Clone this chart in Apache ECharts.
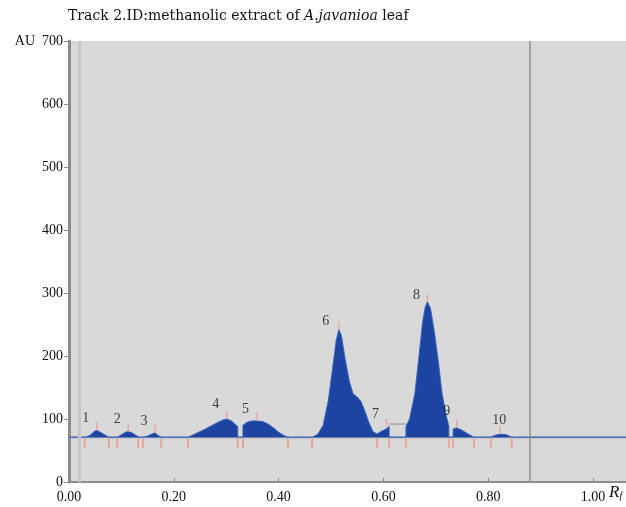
<!DOCTYPE html>
<html>
<head>
<meta charset="utf-8">
<script src="https://cdn.jsdelivr.net/npm/echarts@6/dist/echarts.min.js"></script>
<style>
html,body{margin:0;padding:0;background:#fff;}
#c{width:626px;height:507px;}
</style>
</head>
<body>
<div id="c"></div>
<script>
// Densitogram trace (Rf, AU)
const traceRf = [0.000,0.030,0.040,0.048,0.053,0.060,0.068,0.076,0.092,0.100,0.108,0.113,0.120,0.128,0.135,0.141,0.150,0.158,0.164,0.170,0.176,0.227,0.240,0.260,0.280,0.295,0.301,0.310,0.322,0.322,0.332,0.332,0.340,0.350,0.358,0.370,0.380,0.390,0.400,0.410,0.418,0.464,0.475,0.485,0.495,0.503,0.510,0.515,0.520,0.527,0.535,0.542,0.550,0.557,0.565,0.572,0.580,0.588,0.595,0.605,0.611,0.611,0.643,0.643,0.650,0.660,0.668,0.675,0.680,0.684,0.690,0.697,0.705,0.712,0.720,0.725,0.725,0.733,0.733,0.740,0.750,0.760,0.773,0.805,0.812,0.823,0.835,0.845,1.063];
const traceAU = [71,71,74,80,82,79,75,71,71,75,79,80,78,74,71,71,73,76,78,74,71,71,76,84,93,99,100,97,88,71,71,90,95,97,97,96,92,86,79,74,71,71,76,90,130,180,225,242,232,195,160,140,135,128,112,95,80,76,80,84,88,71,71,88,100,140,200,255,278,286,275,240,190,140,105,88,71,71,84,86,82,77,71,71,74,76,75,71,71];
const baselineAU = 71;
const peakNames = ['1','2','3','4','5','6','7','8','9','10'];
const peakRf = [0.053,0.113,0.164,0.301,0.358,0.515,0.606,0.684,0.740,0.823];
const peakAU = [82,80,78,100,97,242,88,286,86,76];
const boundaryRf = [0.030,0.076,0.092,0.132,0.141,0.176,0.227,0.322,0.332,0.418,0.464,0.588,0.611,0.643,0.725,0.733,0.773,0.805,0.845];
const gapRf = [0.611,0.643];
const gapAU = [92,92];
const markerRf = [0.024,0.876];
const xTicks = [0,0.2,0.4,0.6,0.8,1.0];

const chart = echarts.init(document.getElementById('c'), null, {renderer:'canvas'});
const serif = '"Liberation Serif","DejaVu Serif",serif';
const titleFont = '"DejaVu Serif","Liberation Serif",serif';
const labelOffsets = {'4':[-11,-15],'9':[-10,-16],'10':[-1,-14],'6':[-13,-8],'8':[-11,-6]};

chart.setOption({
  animation:false,
  backgroundColor:'#fff',
  title:{
    text:'Track 2.ID:methanolic extract of {i|A.javanioa} leaf',
    left:63, top:4,
    textStyle:{fontFamily:titleFont,fontSize:14,fontWeight:'normal',color:'#111',
      rich:{i:{fontFamily:titleFont,fontSize:14,fontStyle:'italic',color:'#111'}}}
  },
  grid:{left:69,right:0,top:41,bottom:25,show:true,backgroundColor:'#d9d9d9',borderWidth:0},
  xAxis:{
    type:'value',min:0,max:1.063,interval:0.2,
    axisLine:{show:true,lineStyle:{color:'#8c8c8c',width:2}},
    axisTick:{show:true,inside:true,length:4,lineStyle:{color:'#8c8c8c'}},
    splitLine:{show:false},
    axisLabel:{showMaxLabel:false,fontFamily:serif,fontSize:14,color:'#111',margin:8,
      formatter:v=>xTicks.some(t=>Math.abs(t-v)<1e-6)?v.toFixed(2):''}
  },
  yAxis:{
    type:'value',min:0,max:700,interval:100,
    axisLine:{show:true,lineStyle:{color:'#8c8c8c',width:3}},
    axisTick:{show:true,length:5,lineStyle:{color:'#8c8c8c'}},
    splitLine:{show:false},
    axisLabel:{fontFamily:serif,fontSize:14,color:'#111',margin:6,
      formatter:v=>v===700?'AU  700':String(v)}
  },
  graphic:[{type:'text',left:609,top:484,style:{text:'{r|R}{f|f}',
    rich:{r:{fontFamily:serif,fontSize:17,fontStyle:'italic',fill:'#111'},
          f:{fontFamily:serif,fontSize:10,fontStyle:'italic',fill:'#111',verticalAlign:'bottom',padding:[8,0,0,0]}}}}],
  series:[
    {type:'line',data:markerRf.map(x=>[x,0]),symbol:'none',lineStyle:{width:0},silent:true,z:1,
      markLine:{symbol:'none',silent:true,label:{show:false},
        data:[{xAxis:markerRf[0],lineStyle:{color:'#c6c6c6',width:3,type:'solid'}},
              {xAxis:markerRf[1],lineStyle:{color:'#8f8f8f',width:1.5,type:'solid'}}]}},
    {type:'line',data:[[0,baselineAU],[1.063,baselineAU]],symbol:'none',
      lineStyle:{color:'#8e9ab0',width:2},z:2},
    {type:'line',data:traceRf.map((x,i)=>[x,traceAU[i]]),symbol:'none',
      lineStyle:{color:'#3a64c0',width:1},
      areaStyle:{origin:baselineAU,color:'#1d44a0',opacity:1},z:3},
    {type:'line',data:gapRf.map((x,i)=>[x,gapAU[i]]),symbol:'none',
      lineStyle:{color:'#8a8a8a',width:1},z:3},
    {type:'scatter',data:boundaryRf.map(x=>[x,baselineAU]),symbol:'rect',symbolSize:[2,9],
      symbolOffset:[0,6],itemStyle:{color:'#eb9a86',opacity:0.85},z:4},
    {type:'scatter',data:peakRf.map((x,i)=>[x,peakAU[i]]),symbol:'rect',symbolSize:[1.5,8],
      symbolOffset:[0,-4],itemStyle:{color:'#e8a29a',opacity:0.9},z:4},
    {type:'scatter',symbolSize:0,z:5,
      data:peakRf.map((x,i)=>({value:[x,peakAU[i]],
        label:{show:true,position:'inside',formatter:peakNames[i],
          offset:labelOffsets[peakNames[i]]||[-11,-12],
          fontFamily:serif,fontSize:14,color:'#111'}}))}
  ]
});
</script>
</body>
</html>
